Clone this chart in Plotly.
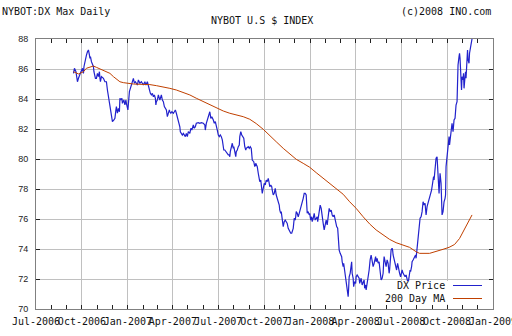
import plotly.graph_objects as go

# NYBOT U.S. Dollar Index (DX), daily closes
price_dates = [
    "2006-09-14", "2006-09-16", "2006-09-19", "2006-09-20", "2006-09-22", "2006-09-24", "2006-09-27", "2006-09-29",
    "2006-10-02", "2006-10-04", "2006-10-05", "2006-10-07", "2006-10-09", "2006-10-10", "2006-10-12", "2006-10-14",
    "2006-10-16", "2006-10-17", "2006-10-18", "2006-10-20", "2006-10-22", "2006-10-24", "2006-10-25", "2006-10-28",
    "2006-10-30", "2006-11-01", "2006-11-03", "2006-11-05", "2006-11-06", "2006-11-07", "2006-11-09", "2006-11-13",
    "2006-11-16", "2006-11-19", "2006-11-21", "2006-11-23", "2006-11-25", "2006-11-27", "2006-11-29", "2006-12-01",
    "2006-12-04", "2006-12-06", "2006-12-08", "2006-12-09", "2006-12-11", "2006-12-13", "2006-12-15", "2006-12-16",
    "2006-12-18", "2006-12-20", "2006-12-21", "2006-12-24", "2006-12-26", "2006-12-28", "2006-12-29", "2006-12-31",
    "2007-01-01", "2007-01-04", "2007-01-05", "2007-01-07", "2007-01-09", "2007-01-12", "2007-01-14", "2007-01-16",
    "2007-01-18", "2007-01-20", "2007-01-22", "2007-01-25", "2007-01-28", "2007-02-01", "2007-02-04", "2007-02-06",
    "2007-02-09", "2007-02-11", "2007-02-13", "2007-02-15", "2007-02-17", "2007-02-19", "2007-02-21", "2007-02-23",
    "2007-02-25", "2007-02-26", "2007-02-27", "2007-03-01", "2007-03-03", "2007-03-06", "2007-03-08", "2007-03-09",
    "2007-03-11", "2007-03-13", "2007-03-15", "2007-03-17", "2007-03-19", "2007-03-21", "2007-03-23", "2007-03-25",
    "2007-03-26", "2007-03-28", "2007-03-30", "2007-04-02", "2007-04-04", "2007-04-06", "2007-04-08", "2007-04-10",
    "2007-04-12", "2007-04-15", "2007-04-16", "2007-04-18", "2007-04-20", "2007-04-22", "2007-04-24", "2007-04-26",
    "2007-04-28", "2007-04-30", "2007-05-02", "2007-05-05", "2007-05-07", "2007-05-09", "2007-05-12", "2007-05-14",
    "2007-05-16", "2007-05-18", "2007-05-22", "2007-05-25", "2007-05-28", "2007-06-01", "2007-06-04", "2007-06-05",
    "2007-06-07", "2007-06-11", "2007-06-13", "2007-06-14", "2007-06-16", "2007-06-18", "2007-06-21", "2007-06-23",
    "2007-06-25", "2007-06-27", "2007-06-29", "2007-07-01", "2007-07-03", "2007-07-05", "2007-07-07", "2007-07-09",
    "2007-07-11", "2007-07-12", "2007-07-14", "2007-07-16", "2007-07-19", "2007-07-21", "2007-07-23", "2007-07-24",
    "2007-07-25", "2007-07-27", "2007-07-29", "2007-07-31", "2007-08-01", "2007-08-03", "2007-08-05", "2007-08-06",
    "2007-08-08", "2007-08-10", "2007-08-12", "2007-08-13", "2007-08-15", "2007-08-17", "2007-08-19", "2007-08-21",
    "2007-08-23", "2007-08-25", "2007-08-26", "2007-08-30", "2007-09-01", "2007-09-03", "2007-09-05", "2007-09-07",
    "2007-09-10", "2007-09-12", "2007-09-14", "2007-09-15", "2007-09-17", "2007-09-19", "2007-09-21", "2007-09-22",
    "2007-09-24", "2007-09-26", "2007-09-27", "2007-09-29", "2007-10-01", "2007-10-03", "2007-10-05", "2007-10-07",
    "2007-10-09", "2007-10-11", "2007-10-12", "2007-10-14", "2007-10-16", "2007-10-17", "2007-10-19", "2007-10-21",
    "2007-10-23", "2007-10-25", "2007-10-27", "2007-10-29", "2007-10-31", "2007-11-01", "2007-11-03", "2007-11-04",
    "2007-11-06", "2007-11-08", "2007-11-10", "2007-11-12", "2007-11-14", "2007-11-16", "2007-11-18", "2007-11-21",
    "2007-11-23", "2007-11-25", "2007-11-28", "2007-11-30", "2007-12-02", "2007-12-03", "2007-12-04", "2007-12-06",
    "2007-12-08", "2007-12-10", "2007-12-12", "2007-12-14", "2007-12-16", "2007-12-18", "2007-12-20", "2007-12-22",
    "2007-12-24", "2007-12-25", "2007-12-26", "2007-12-28", "2007-12-30", "2007-12-31", "2008-01-02", "2008-01-04",
    "2008-01-05", "2008-01-07", "2008-01-09", "2008-01-11", "2008-01-13", "2008-01-15", "2008-01-16", "2008-01-18",
    "2008-01-20", "2008-01-21", "2008-01-23", "2008-01-24", "2008-01-25", "2008-01-27", "2008-01-29", "2008-01-31",
    "2008-02-02", "2008-02-04", "2008-02-06", "2008-02-08", "2008-02-10", "2008-02-12", "2008-02-14", "2008-02-16",
    "2008-02-18", "2008-02-20", "2008-02-21", "2008-02-23", "2008-02-25", "2008-02-27", "2008-02-28", "2008-03-01",
    "2008-03-03", "2008-03-04", "2008-03-05", "2008-03-07", "2008-03-08", "2008-03-10", "2008-03-12", "2008-03-13",
    "2008-03-15", "2008-03-17", "2008-03-18", "2008-03-19", "2008-03-21", "2008-03-23", "2008-03-24", "2008-03-25",
    "2008-03-27", "2008-03-28", "2008-03-30", "2008-04-01", "2008-04-02", "2008-04-04", "2008-04-06", "2008-04-08",
    "2008-04-09", "2008-04-11", "2008-04-12", "2008-04-14", "2008-04-16", "2008-04-18", "2008-04-19", "2008-04-21",
    "2008-04-22", "2008-04-24", "2008-04-26", "2008-04-28", "2008-04-29", "2008-04-30", "2008-05-02", "2008-05-04",
    "2008-05-05", "2008-05-06", "2008-05-08", "2008-05-10", "2008-05-11", "2008-05-12", "2008-05-14", "2008-05-16",
    "2008-05-18", "2008-05-19", "2008-05-20", "2008-05-22", "2008-05-24", "2008-05-26", "2008-05-27", "2008-05-28",
    "2008-05-30", "2008-06-01", "2008-06-03", "2008-06-05", "2008-06-07", "2008-06-08", "2008-06-10", "2008-06-11",
    "2008-06-13", "2008-06-14", "2008-06-15", "2008-06-17", "2008-06-19", "2008-06-21", "2008-06-22", "2008-06-24",
    "2008-06-26", "2008-06-28", "2008-06-30", "2008-07-01", "2008-07-03", "2008-07-05", "2008-07-07", "2008-07-09",
    "2008-07-11", "2008-07-12", "2008-07-13", "2008-07-15", "2008-07-16", "2008-07-17", "2008-07-19", "2008-07-20",
    "2008-07-22", "2008-07-23", "2008-07-25", "2008-07-27", "2008-07-28", "2008-07-30", "2008-07-31", "2008-08-02",
    "2008-08-03", "2008-08-04", "2008-08-07", "2008-08-08", "2008-08-10", "2008-08-12", "2008-08-14", "2008-08-15",
    "2008-08-16", "2008-08-18", "2008-08-19", "2008-08-20", "2008-08-22", "2008-08-23", "2008-08-25", "2008-08-27",
    "2008-08-29", "2008-08-31", "2008-09-01", "2008-09-03", "2008-09-04", "2008-09-05", "2008-09-07", "2008-09-08",
    "2008-09-09", "2008-09-11", "2008-09-12", "2008-09-13", "2008-09-15", "2008-09-16", "2008-09-17", "2008-09-19",
    "2008-09-20", "2008-09-21", "2008-09-23", "2008-09-24", "2008-09-25", "2008-09-27", "2008-09-28", "2008-09-29",
    "2008-10-01", "2008-10-02", "2008-10-03", "2008-10-05", "2008-10-06", "2008-10-07", "2008-10-09", "2008-10-10",
    "2008-10-11", "2008-10-13", "2008-10-14", "2008-10-15", "2008-10-17", "2008-10-18", "2008-10-19", "2008-10-21",
    "2008-10-22", "2008-10-23", "2008-10-25", "2008-10-26", "2008-10-27", "2008-10-29", "2008-10-30", "2008-10-31",
    "2008-11-02", "2008-11-03", "2008-11-04", "2008-11-06", "2008-11-07", "2008-11-08", "2008-11-10", "2008-11-11",
    "2008-11-12", "2008-11-14", "2008-11-15", "2008-11-16", "2008-11-18", "2008-11-19", "2008-11-20", "2008-11-22",
]
price_values = [
    85.71, 86.05, 85.82, 85.49, 85.15, 85.38, 85.71, 85.82,
    86.05, 85.71, 86.15, 86.60, 86.71, 86.93, 87.15, 87.27,
    86.93, 86.71, 86.82, 86.49, 86.27, 86.15, 85.82, 85.38,
    85.38, 85.71, 85.49, 85.82, 85.38, 85.15, 85.49, 85.38,
    85.15, 85.15, 84.60, 84.15, 83.60, 83.15, 82.82, 82.49,
    82.60, 82.71, 83.27, 83.49, 83.05, 83.38, 83.15, 84.05,
    83.93, 84.05, 83.71, 83.93, 83.60, 83.93, 83.71, 83.38,
    83.27, 84.49, 84.60, 84.82, 85.05, 85.38, 85.05, 85.15,
    85.05, 84.93, 85.27, 85.05, 85.15, 84.93, 85.15, 84.93,
    85.15, 84.82, 84.71, 84.38, 84.27, 84.38, 84.15, 84.27,
    84.05, 83.60, 83.82, 83.93, 84.27, 83.93, 84.15, 84.27,
    83.93, 83.82, 83.49, 83.38, 83.27, 82.82, 83.05, 83.27,
    83.15, 83.05, 83.15, 83.05, 83.15, 83.27, 83.05, 82.82,
    82.49, 82.15, 81.82, 81.71, 81.60, 81.71, 81.60, 81.49,
    81.71, 81.49, 81.82, 81.71, 82.05, 81.93, 82.27, 82.05,
    82.15, 82.38, 82.42, 82.38, 82.42, 82.38, 82.27, 81.93,
    82.38, 82.82, 83.05, 83.15, 82.71, 82.82, 82.60, 82.38,
    82.49, 82.27, 81.93, 81.60, 81.49, 81.60, 81.49, 81.27,
    80.93, 80.60, 80.60, 80.49, 80.38, 80.27, 80.27, 80.15,
    80.49, 80.93, 81.05, 80.71, 80.82, 80.49, 80.15, 80.49,
    80.60, 80.82, 80.93, 81.49, 81.82, 81.60, 81.49, 81.38,
    80.82, 80.60, 80.71, 80.82, 80.71, 80.82, 80.71, 79.93,
    79.82, 79.49, 79.71, 79.60, 79.49, 79.05, 78.60, 78.49,
    78.60, 78.05, 77.71, 78.05, 78.38, 78.27, 78.60, 78.49,
    78.71, 78.38, 78.15, 78.27, 78.15, 77.93, 77.60, 77.71,
    78.05, 77.60, 77.38, 77.15, 76.93, 76.60, 76.38, 76.49,
    75.82, 75.49, 75.82, 75.93, 75.82, 75.71, 75.38, 75.15,
    75.05, 75.05, 75.38, 76.05, 75.93, 76.15, 76.49, 76.38,
    76.15, 76.38, 76.60, 76.82, 77.05, 77.38, 77.71, 77.71,
    77.60, 76.93, 76.38, 76.49, 76.27, 76.38, 75.93, 76.15,
    75.82, 76.05, 76.38, 75.93, 76.05, 76.15, 75.82, 76.27,
    76.49, 76.93, 76.71, 76.38, 75.93, 75.71, 75.27, 75.71,
    75.93, 75.60, 76.38, 76.71, 76.49, 76.60, 76.27, 76.15,
    76.27, 75.93, 75.60, 75.49, 75.38, 74.49, 73.93, 73.71,
    73.60, 73.49, 73.15, 72.82, 73.05, 72.60, 71.93, 71.71,
    71.38, 70.82, 71.38, 72.15, 72.38, 73.05, 73.15, 72.38,
    72.05, 71.49, 71.82, 71.71, 72.15, 72.27, 72.15, 72.05,
    71.71, 71.93, 72.05, 71.60, 71.82, 71.93, 71.38, 71.60,
    71.27, 71.93, 72.15, 72.60, 73.05, 73.27, 73.60, 73.27,
    72.93, 72.82, 73.05, 73.27, 73.49, 73.15, 73.38, 73.05,
    73.15, 72.82, 72.60, 71.93, 72.05, 72.38, 73.05, 73.49,
    73.15, 72.82, 73.27, 73.05, 72.38, 72.60, 73.49, 73.93,
    74.05, 73.93, 73.60, 73.27, 72.93, 72.82, 72.60, 73.05,
    72.60, 72.38, 72.15, 72.27, 72.60, 72.38, 72.27, 72.15,
    72.27, 72.05, 71.93, 71.71, 71.93, 72.15, 72.60, 72.49,
    72.82, 73.15, 73.27, 73.38, 73.49, 73.60, 73.38, 74.05,
    74.38, 74.60, 75.27, 76.05, 76.15, 76.49, 77.15, 77.05,
    76.93, 77.05, 76.82, 76.27, 76.82, 76.93, 77.27, 77.38,
    77.60, 77.93, 78.15, 78.71, 78.82, 78.60, 79.49, 79.60,
    80.05, 80.15, 79.27, 78.49, 77.71, 78.38, 79.05, 78.38,
    77.49, 76.27, 76.49, 77.05, 77.15, 77.38, 77.60, 79.49,
    80.15, 80.38, 80.60, 81.49, 80.93, 81.27, 82.15, 82.15,
    82.38, 81.82, 82.15, 82.60, 82.71, 83.49, 83.60, 83.82,
    85.27, 86.27, 86.82, 87.05, 86.71, 85.71, 84.60, 85.49,
    85.27, 85.71, 84.71, 85.49, 85.82, 85.38, 87.05, 87.27,
    86.60, 86.38, 87.05, 87.27, 87.60, 87.82, 88.05, 88.40,
]

# 200-day moving average
ma_dates = [
    "2006-09-14", "2006-09-20", "2006-09-24", "2006-09-27", "2006-10-04", "2006-10-10", "2006-10-17", "2006-10-24",
    "2006-10-30", "2006-11-06", "2006-11-13", "2006-11-19", "2006-11-26", "2006-12-03", "2006-12-09", "2006-12-16",
    "2006-12-23", "2006-12-29", "2007-01-12", "2007-01-25", "2007-02-14", "2007-02-27", "2007-03-13", "2007-03-26",
    "2007-04-08", "2007-04-22", "2007-05-05", "2007-05-18", "2007-06-01", "2007-06-14", "2007-06-27", "2007-07-11",
    "2007-07-24", "2007-08-06", "2007-08-20", "2007-09-02", "2007-09-15", "2007-09-29", "2007-10-12", "2007-10-25",
    "2007-11-08", "2007-11-21", "2007-12-04", "2007-12-18", "2007-12-31", "2008-01-13", "2008-01-27", "2008-02-09",
    "2008-02-22", "2008-03-07", "2008-03-20", "2008-04-02", "2008-04-16", "2008-04-29", "2008-05-12", "2008-05-26",
    "2008-06-08", "2008-06-21", "2008-07-05", "2008-07-18", "2008-07-31", "2008-08-07", "2008-08-27", "2008-09-09",
    "2008-09-23", "2008-10-05", "2008-10-16", "2008-10-26", "2008-11-05", "2008-11-12", "2008-11-20",
]
ma_values = [
    85.82, 85.76, 85.67, 85.71, 85.82, 86.05, 86.15, 86.20,
    86.11, 86.00, 85.93, 85.82, 85.71, 85.49, 85.31, 85.15,
    85.09, 85.05, 85.00, 84.98, 84.96, 84.89, 84.82, 84.71,
    84.60, 84.44, 84.27, 84.05, 83.82, 83.62, 83.43, 83.20,
    83.05, 82.95, 82.82, 82.65, 82.36, 81.98, 81.53, 81.15,
    80.71, 80.33, 79.98, 79.71, 79.45, 79.09, 78.71, 78.35,
    78.05, 77.65, 77.15, 76.71, 76.15, 75.67, 75.27, 74.93,
    74.64, 74.42, 74.27, 74.11, 73.82, 73.71, 73.71, 73.82,
    73.98, 74.11, 74.30, 74.70, 75.31, 75.80, 76.27,
]

tick_dates = ["2006-07-01", "2006-10-01", "2007-01-01", "2007-04-01", "2007-07-01", "2007-10-01",
              "2008-01-01", "2008-04-01", "2008-07-01", "2008-10-01", "2009-01-01"]
tick_labels = ["Jul-2006", "Oct-2006", "Jan-2007", "Apr-2007", "Jul-2007", "Oct-2007",
               "Jan-2008", "Apr-2008", "Jul-2008", "Oct-2008", "Jan-2009"]
y_ticks = [70, 72, 74, 76, 78, 80, 82, 84, 86, 88]

PRICE_COLOR = "#2222cc"
MA_COLOR = "#c04000"
MONO = "DejaVu Sans Mono"

fig = go.Figure()
fig.add_trace(go.Scatter(x=price_dates, y=price_values, mode="lines", name="DX Price",
                         line=dict(color=PRICE_COLOR, width=1.2)))
fig.add_trace(go.Scatter(x=ma_dates, y=ma_values, mode="lines", name="200 Day MA",
                         line=dict(color=MA_COLOR, width=1)))

W, H = 512, 336
L, R, T, B = 36, 19, 39, 27
pw, ph = W - L - R, H - T - B


def px(x):
    return (x - L) / pw


def py(y):
    return (H - B - y) / ph


fig.update_layout(
    width=W, height=H, autosize=False,
    margin=dict(l=L, r=R, t=T, b=B, pad=0, autoexpand=False),
    paper_bgcolor="white", plot_bgcolor="white",
    showlegend=False,
    font=dict(family=MONO, size=10, color="#111111"),
)

fig.update_xaxes(
    type="date", range=["2006-07-01", "2009-01-01"], automargin=False,
    tickmode="array", tickvals=tick_dates, ticktext=tick_labels, tickangle=0,
    ticklabeloverflow="allow", ticklabelstandoff=3,
    tickfont=dict(family=MONO, size=10, color="#111111"),
    showgrid=True, gridcolor="#c0c0c0", gridwidth=1,
    showline=True, linecolor="#808080", linewidth=1, mirror="ticks",
    ticks="inside", ticklen=4, tickcolor="#222222", tickwidth=1,
    minor=dict(tickmode="linear", tick0="2006-07-01", dtick="M1", ticks="inside",
               ticklen=4, tickcolor="#222222", showgrid=False),
    zeroline=False,
)
fig.update_yaxes(
    range=[70, 88], tickmode="array", tickvals=y_ticks, automargin=False,
    tickfont=dict(family="Liberation Sans", size=9, color="#222222"),
    showgrid=True, gridcolor="#c0c0c0", gridwidth=1,
    showline=True, linecolor="#808080", linewidth=1, mirror="ticks",
    ticks="inside", ticklen=4, tickcolor="#222222", tickwidth=1,
    ticklabelstandoff=5, zeroline=False,
)

# header texts
fig.add_annotation(text="NYBOT:DX Max Daily", xref="paper", yref="paper", x=px(0), y=py(11),
                   xanchor="left", yanchor="middle", showarrow=False, font=dict(family=MONO, size=10))
fig.add_annotation(text="(c)2008 INO.com", xref="paper", yref="paper", x=px(493), y=py(11),
                   xanchor="right", yanchor="middle", showarrow=False, font=dict(family=MONO, size=10))
fig.add_annotation(text="NYBOT U.S $ INDEX", xref="paper", yref="paper", x=px(262), y=py(20.5),
                   xanchor="center", yanchor="middle", showarrow=False, font=dict(family=MONO, size=10))

# key box in the lower right corner
fig.add_shape(type="rect", xref="paper", yref="paper", x0=px(383), x1=px(490), y0=py(304.5), y1=py(281),
              fillcolor="white", line=dict(width=0), layer="above")
for label, color, yy in [("DX Price", PRICE_COLOR, 285.5), ("200 Day MA", MA_COLOR, 298.5)]:
    fig.add_annotation(text=label, xref="paper", yref="paper", x=px(447), y=py(yy),
                       xanchor="right", yanchor="middle", showarrow=False, font=dict(family=MONO, size=10))
    fig.add_shape(type="line", xref="paper", yref="paper", x0=px(453), x1=px(482), y0=py(yy), y1=py(yy),
                  line=dict(color=color, width=1), layer="above")

fig.write_html("out.html")
